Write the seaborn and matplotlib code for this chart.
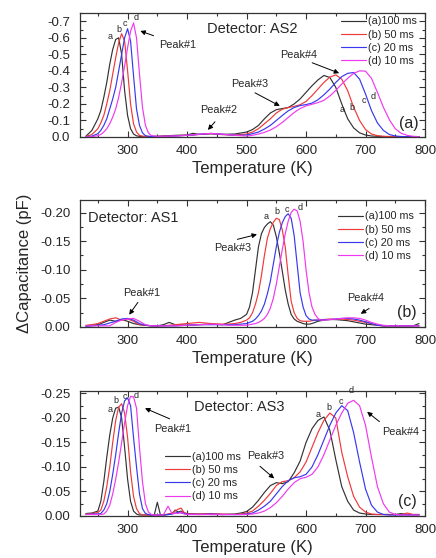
import numpy as np
import pandas as pd
import seaborn as sns
import matplotlib.pyplot as plt
from matplotlib.ticker import MultipleLocator, FuncFormatter

sns.set_style("ticks")
plt.rcParams['font.family'] = ['Liberation Sans', 'DejaVu Sans']
plt.rcParams['axes.unicode_minus'] = False

# 펄스 폭별 시리즈
pulses = ["(a)100 ms", "(b) 50 ms", "(c) 20 ms", "(d) 10 ms"]
colors = ["#333333", "#f03838", "#3838f0", "#f038f0"]

# |ΔC| (pF) values, plotted as negative numbers

# Detector AS2
t_as2 = [230, 240, 250, 255, 260, 265, 270, 275, 280, 285, 290, 295, 300, 305, 310,
         315, 320, 325, 330, 335, 340,
         350, 360, 380, 400, 410, 420, 440, 460, 480,
         500, 510, 520, 530, 540, 550, 560, 570, 580, 590,
         600, 610, 620, 630, 640, 650, 660, 670, 680, 690,
         700, 710, 720, 730, 740, 750, 760, 770, 780, 790]
as2_a = [0.005, 0.04, 0.11, 0.16, 0.24, 0.33, 0.44, 0.53, 0.59, 0.60, 0.50, 0.28, 0.13, 0.05, 0.018,
         0.007, 0.004, 0.003, 0.003, 0.003, 0.003,
         0.004, 0.006, 0.010, 0.012, 0.022, 0.016, 0.020, 0.016, 0.018,
         0.030, 0.045, 0.070, 0.110, 0.145, 0.165, 0.172, 0.178, 0.200, 0.230,
         0.270, 0.310, 0.345, 0.372, 0.360, 0.300, 0.200, 0.110, 0.055, 0.025,
         0.012, 0.006, 0.004, 0.003, 0.002, 0.002, 0.002, 0.002, 0.002, 0.002]
as2_b = [0.003, 0.015, 0.05, 0.085, 0.13, 0.20, 0.28, 0.38, 0.48, 0.57, 0.625, 0.58, 0.40, 0.20, 0.08,
         0.03, 0.01, 0.005, 0.003, 0.003, 0.003,
         0.003, 0.005, 0.008, 0.010, 0.012, 0.015, 0.020, 0.014, 0.012,
         0.018, 0.030, 0.050, 0.080, 0.110, 0.145, 0.168, 0.178, 0.185, 0.195,
         0.215, 0.250, 0.290, 0.330, 0.362, 0.376, 0.350, 0.280, 0.180, 0.100,
         0.045, 0.018, 0.008, 0.004, 0.003, 0.002, 0.002, 0.002, 0.002, 0.002]
as2_c = [0.002, 0.005, 0.02, 0.04, 0.07, 0.11, 0.17, 0.23, 0.30, 0.40, 0.50, 0.60, 0.655, 0.58, 0.37,
         0.17, 0.07, 0.025, 0.008, 0.004, 0.003,
         0.003, 0.004, 0.006, 0.010, 0.012, 0.016, 0.021, 0.016, 0.010,
         0.012, 0.020, 0.030, 0.048, 0.070, 0.100, 0.130, 0.158, 0.178, 0.190,
         0.196, 0.205, 0.225, 0.255, 0.290, 0.330, 0.365, 0.385, 0.390, 0.350,
         0.260, 0.160, 0.085, 0.040, 0.015, 0.006, 0.003, 0.002, 0.002, 0.002]
as2_d = [0.001, 0.002, 0.008, 0.015, 0.03, 0.05, 0.08, 0.12, 0.17, 0.24, 0.33, 0.43, 0.54, 0.64, 0.69,
         0.60, 0.38, 0.18, 0.07, 0.025, 0.008,
         0.004, 0.004, 0.006, 0.010, 0.013, 0.017, 0.022, 0.017, 0.010,
         0.006, 0.010, 0.018, 0.028, 0.042, 0.062, 0.088, 0.118, 0.148, 0.172,
         0.188, 0.198, 0.208, 0.222, 0.248, 0.282, 0.320, 0.355, 0.385, 0.400,
         0.398, 0.355, 0.270, 0.180, 0.105, 0.050, 0.022, 0.010, 0.004, 0.002]

# Detector AS1
t_as1 = [230, 240, 250, 260, 270, 280, 290, 300, 310, 320, 330, 340, 350, 360, 370, 380,
         400, 420, 440, 460, 470, 480, 490,
         500, 505, 510, 515, 520, 525, 530, 535, 540, 545,
         550, 555, 560, 565, 570, 575, 580, 585, 590, 595,
         600, 605, 610, 615, 620, 625, 630,
         640, 650, 660, 670, 680, 690, 700, 710, 720, 730, 740, 750, 760, 770, 780, 790]
as1_a = [0.002, 0.003, 0.004, 0.008, 0.012, 0.010, 0.013, 0.010, 0.006, 0.004, 0.003, 0.002, 0.002, 0.004, 0.008, 0.004,
         0.003, 0.004, 0.005, 0.004, 0.008, 0.012, 0.015,
         0.022, 0.035, 0.060, 0.100, 0.140, 0.163, 0.174, 0.180, 0.184, 0.178,
         0.158, 0.130, 0.098, 0.065, 0.040, 0.022, 0.014, 0.010, 0.008, 0.006,
         0.005, 0.005, 0.006, 0.008, 0.010, 0.011, 0.012,
         0.013, 0.013, 0.012, 0.011, 0.009, 0.007, 0.005, 0.004, 0.003, 0.002, 0.002, 0.002, 0.002, 0.002, 0.002, 0.006]
as1_b = [0.003, 0.004, 0.006, 0.010, 0.014, 0.016, 0.012, 0.014, 0.010, 0.004, 0.003, 0.002, 0.002, 0.002, 0.003, 0.004,
         0.006, 0.008, 0.006, 0.005, 0.005, 0.006, 0.008,
         0.012, 0.016, 0.025, 0.040, 0.060, 0.090, 0.125, 0.155, 0.172, 0.183,
         0.190, 0.188, 0.170, 0.140, 0.090, 0.045, 0.025, 0.015, 0.011, 0.010,
         0.010, 0.010, 0.011, 0.012, 0.012, 0.013, 0.013,
         0.014, 0.013, 0.014, 0.013, 0.012, 0.010, 0.008, 0.006, 0.003, 0.002, 0.002, 0.002, 0.002, 0.002, 0.002, 0.002]
as1_c = [0.001, 0.002, 0.003, 0.004, 0.007, 0.010, 0.014, 0.015, 0.012, 0.006, 0.003, 0.002, 0.002, 0.002, 0.002, 0.002,
         0.003, 0.004, 0.004, 0.004, 0.004, 0.004, 0.005,
         0.006, 0.008, 0.010, 0.014, 0.020, 0.028, 0.040, 0.058, 0.080, 0.110,
         0.140, 0.165, 0.182, 0.193, 0.198, 0.190, 0.160, 0.110, 0.060, 0.035,
         0.020, 0.014, 0.012, 0.012, 0.012, 0.012, 0.013,
         0.013, 0.014, 0.015, 0.015, 0.014, 0.012, 0.009, 0.006, 0.003, 0.002, 0.002, 0.002, 0.002, 0.002, 0.002, 0.002]
as1_d = [0.002, 0.002, 0.002, 0.002, 0.002, 0.008, 0.012, 0.014, 0.015, 0.010, 0.004, 0.002, 0.002, 0.002, 0.002, 0.002,
         0.003, 0.004, 0.005, 0.004, 0.003, 0.003, 0.003,
         0.003, 0.004, 0.005, 0.006, 0.008, 0.011, 0.015, 0.022, 0.033, 0.050,
         0.075, 0.105, 0.135, 0.163, 0.185, 0.200, 0.206, 0.203, 0.185, 0.150,
         0.100, 0.060, 0.035, 0.022, 0.015, 0.012, 0.012,
         0.013, 0.014, 0.015, 0.016, 0.016, 0.015, 0.012, 0.008, 0.005, 0.003, 0.002, 0.002, 0.002, 0.002, 0.002, 0.002]

# Detector AS3
t_as3 = [230, 240,
         250, 255, 260, 265, 270, 275, 280, 285, 290, 295,
         300, 305, 310, 315, 320, 325, 330, 335, 340,
         345, 350, 355, 360, 368, 375, 380, 385, 390, 395, 400, 420, 440, 460, 480, 490,
         500, 510, 520, 530, 540, 550, 560, 570, 580, 590,
         600, 610, 620, 630, 640, 650, 660, 670, 680, 690,
         700, 710, 720, 730, 740, 750, 760, 770, 780, 790]
as3_a = [0.005, 0.006,
         0.010, 0.030, 0.070, 0.120, 0.165, 0.200, 0.220, 0.222, 0.200, 0.140,
         0.075, 0.030, 0.010, 0.004, 0.002, 0.002, 0.002, 0.002, 0.002,
         0.003, 0.028, 0.003, 0.002, 0.003, 0.005, 0.012, 0.008, 0.010, 0.006, 0.004, 0.004, 0.003, 0.003, 0.004, 0.006,
         0.009, 0.018, 0.032, 0.048, 0.062, 0.068, 0.066, 0.070, 0.088, 0.112,
         0.150, 0.178, 0.195, 0.202, 0.175, 0.115, 0.060, 0.030, 0.012, 0.006,
         0.004, 0.003, 0.003, 0.003, 0.003, 0.003, 0.005, 0.003, 0.003, 0.003]
as3_b = [0.004, 0.005,
         0.007, 0.012, 0.030, 0.060, 0.100, 0.150, 0.195, 0.222, 0.229, 0.210,
         0.160, 0.090, 0.040, 0.015, 0.005, 0.002, 0.002, 0.002, 0.002,
         0.002, 0.002, 0.002, 0.002, 0.004, 0.006, 0.010, 0.014, 0.016, 0.007, 0.005, 0.004, 0.005, 0.004, 0.003, 0.004,
         0.006, 0.010, 0.020, 0.032, 0.046, 0.062, 0.070, 0.072, 0.078, 0.090,
         0.110, 0.140, 0.170, 0.195, 0.210, 0.200, 0.130, 0.080, 0.040, 0.018,
         0.008, 0.004, 0.003, 0.003, 0.003, 0.003, 0.003, 0.006, 0.003, 0.003]
as3_c = [0.003, 0.004,
         0.004, 0.005, 0.012, 0.025, 0.050, 0.085, 0.125, 0.170, 0.210, 0.235,
         0.241, 0.225, 0.160, 0.100, 0.045, 0.015, 0.005, 0.003, 0.002,
         0.002, 0.002, 0.002, 0.002, 0.003, 0.004, 0.006, 0.008, 0.006, 0.005, 0.004, 0.003, 0.004, 0.003, 0.003, 0.003,
         0.004, 0.006, 0.012, 0.020, 0.030, 0.045, 0.060, 0.072, 0.078, 0.080,
         0.085, 0.100, 0.125, 0.155, 0.185, 0.210, 0.225, 0.215, 0.170, 0.110,
         0.055, 0.022, 0.008, 0.003, 0.002, 0.002, 0.002, 0.002, 0.002, 0.002]
as3_d = [0.003, 0.003,
         0.003, 0.003, 0.004, 0.010, 0.022, 0.045, 0.075, 0.110, 0.150, 0.190,
         0.225, 0.244, 0.243, 0.220, 0.140, 0.070, 0.025, 0.008, 0.003,
         0.002, 0.002, 0.002, 0.002, 0.020, 0.004, 0.006, 0.005, 0.008, 0.004, 0.003, 0.003, 0.003, 0.003, 0.003, 0.003,
         0.003, 0.004, 0.006, 0.010, 0.017, 0.027, 0.040, 0.055, 0.068, 0.076,
         0.079, 0.085, 0.100, 0.125, 0.155, 0.185, 0.210, 0.230, 0.236, 0.225,
         0.185, 0.120, 0.060, 0.025, 0.008, 0.003, 0.002, 0.002, 0.002, 0.002]


def draw_panel(ax, t, series, ymax, step, nd):
    df = pd.DataFrame({
        "T": np.tile(t, len(series)),
        "dC": -np.concatenate([np.array(s) for s in series]),
        "pulse": np.repeat(pulses, len(t)),
    })
    sns.lineplot(data=df, x="T", y="dC", hue="pulse", palette=colors, lw=0.85,
                 estimator=None, sort=False, legend=False, ax=ax)
    ax.set_xlim(220, 800)
    ax.set_ylim(0, -ymax)
    ax.xaxis.set_major_locator(MultipleLocator(100))
    ax.xaxis.set_minor_locator(MultipleLocator(50))
    ax.yaxis.set_major_locator(MultipleLocator(step))
    ax.yaxis.set_minor_locator(MultipleLocator(step / 2))
    ax.yaxis.set_major_formatter(FuncFormatter(lambda v, p: f"{round(v, 4) + 0.0:.{nd}f}"))
    ax.tick_params(which="both", direction="in", top=True, right=True,
                   labelsize=9.5, width=0.8, color="#333333")
    ax.tick_params(axis="x", which="major", pad=6)
    ax.tick_params(axis="y", which="major", pad=7)
    ax.tick_params(which="major", length=4.5)
    ax.tick_params(which="minor", length=2.5)
    for sp in ax.spines.values():
        sp.set_linewidth(0.9)
        sp.set_color("#333333")
    ax.set_xlabel("Temperature (K)", fontsize=12, labelpad=3)
    ax.set_ylabel("")


def arrow(ax, tail, head):
    ax.annotate("", xy=(head[0], -head[1]), xytext=(tail[0], -tail[1]),
                arrowprops=dict(arrowstyle="-|>", color="black", lw=0.7, mutation_scale=7))


def label(ax, x, y, s, size=7.8, **kw):
    ax.text(x, -y, s, fontsize=size, ha=kw.pop("ha", "center"), va="center", **kw)


fig = plt.figure(figsize=(4.36, 5.58), dpi=100)
ax_a = fig.add_axes([0.1835, 0.7545, 0.7913, 0.2222])
ax_b = fig.add_axes([0.1835, 0.4140, 0.7913, 0.2276])
ax_c = fig.add_axes([0.1835, 0.0753, 0.7913, 0.2240])

draw_panel(ax_a, t_as2, [as2_a, as2_b, as2_c, as2_d], 0.75, 0.1, 1)
draw_panel(ax_b, t_as1, [as1_a, as1_b, as1_c, as1_d], 0.222, 0.05, 2)
draw_panel(ax_c, t_as3, [as3_a, as3_b, as3_c, as3_d], 0.255, 0.05, 2)

leg_kw = dict(frameon=False, fontsize=7.8, handlelength=2.3, handletextpad=0.2,
              labelspacing=0.3, borderpad=0, borderaxespad=0)
ax_a.legend(ax_a.get_lines()[:4], pulses, loc="upper right", bbox_to_anchor=(0.976, 0.972), **leg_kw)
ax_b.legend(ax_b.get_lines()[:4], pulses, loc="upper right", bbox_to_anchor=(0.968, 0.91), **leg_kw)
ax_c.legend(ax_c.get_lines()[:4], pulses, loc="upper left", bbox_to_anchor=(0.246, 0.515), **leg_kw)

# panel (a)
label(ax_a, 433, 0.655, "Detector: AS2", size=10.5, ha="left")
label(ax_a, 772, 0.082, "(a)", size=11.5)
label(ax_a, 384, 0.555, "Peak#1")
arrow(ax_a, (348, 0.607), (317, 0.647))
label(ax_a, 453, 0.161, "Peak#2")
arrow(ax_a, (450, 0.105), (432, 0.03))
label(ax_a, 506, 0.32, "Peak#3")
arrow(ax_a, (510, 0.275), (560, 0.18))
label(ax_a, 588, 0.498, "Peak#4")
arrow(ax_a, (606, 0.455), (660, 0.38))
for s, x, y in zip("abcd", [271, 285.5, 296, 314.5], [0.605, 0.65, 0.685, 0.72]):
    label(ax_a, x, y, s, size=6.5)
for s, x, y in zip("abcd", [660, 677, 697.5, 713], [0.165, 0.18, 0.22, 0.245]):
    label(ax_a, x, y, s, size=6.5)

# panel (b)
label(ax_b, 234, 0.19, "Detector: AS1", size=10.5, ha="left")
label(ax_b, 769.5, 0.025, "(b)", size=11.5)
label(ax_b, 324, 0.0586, "Peak#1")
arrow(ax_b, (320, 0.047), (300, 0.0175))
label(ax_b, 476, 0.1375, "Peak#3")
arrow(ax_b, (480, 0.152), (522, 0.163))
label(ax_b, 700.5, 0.05, "Peak#4")
arrow(ax_b, (710, 0.035), (688, 0.0205))
for s, x, y in zip("abcd", [533, 551, 567, 589.5], [0.194, 0.202, 0.206, 0.209]):
    label(ax_b, x, y, s, size=6.5)

# panel (c)
label(ax_c, 411, 0.222, "Detector: AS3", size=10.5, ha="left")
label(ax_c, 771, 0.029, "(c)", size=11.5)
label(ax_c, 375, 0.178, "Peak#1")
arrow(ax_c, (375, 0.196), (325, 0.222))
label(ax_c, 532, 0.122, "Peak#3")
arrow(ax_c, (519, 0.105), (550, 0.073))
label(ax_c, 759.5, 0.171, "Peak#4")
arrow(ax_c, (727, 0.189), (699, 0.216))
for s, x, y in zip("abcd", [271, 281, 295.6, 315], [0.218, 0.235, 0.244, 0.246]):
    label(ax_c, x, y, s, size=6.5)
for s, x, y in zip("abcd", [620, 638.5, 658, 676.7], [0.207, 0.221, 0.234, 0.255]):
    label(ax_c, x, y, s, size=6.5)

fig.text(25 / 436, 1 - 263 / 558, "ΔCapacitance (pF)", rotation=90,
         ha="center", va="center", fontsize=12)

fig.savefig("out.png", dpi=100)
